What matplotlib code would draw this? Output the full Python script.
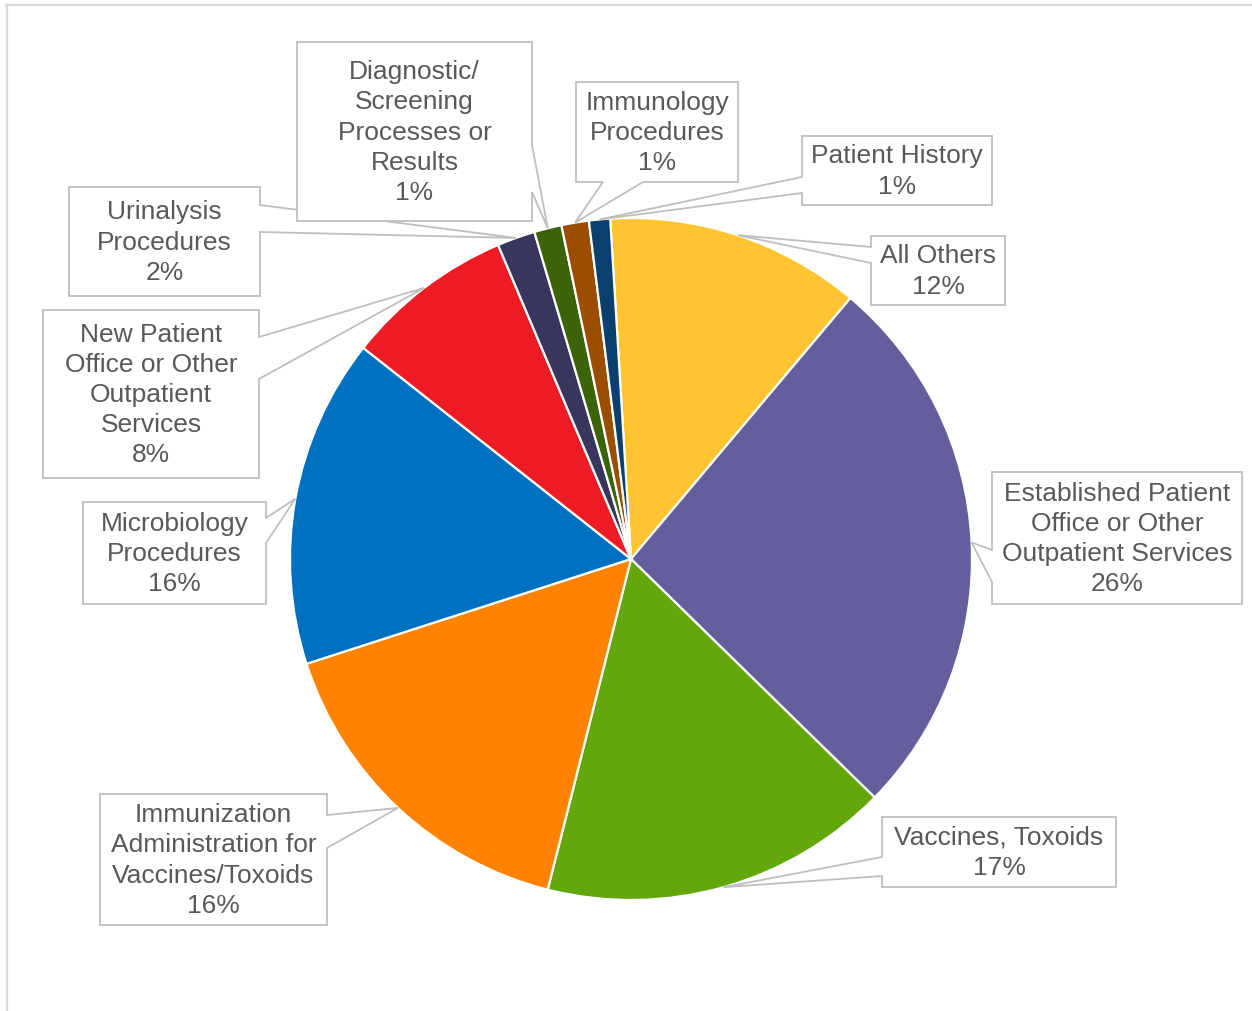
import numpy as np
import matplotlib
matplotlib.use("Agg")
import matplotlib.pyplot as plt
from matplotlib.patches import Polygon

plt.rcParams['font.family'] = ['Liberation Sans', 'DejaVu Sans']

# Data (share of total)
categories = [
    "All Others",
    "Established Patient\nOffice or Other\nOutpatient Services",
    "Vaccines, Toxoids",
    "Immunization\nAdministration for\nVaccines/Toxoids",
    "Microbiology\nProcedures",
    "New Patient\nOffice or Other\nOutpatient\nServices",
    "Urinalysis\nProcedures",
    "Diagnostic/\nScreening\nProcesses or\nResults",
    "Immunology\nProcedures",
    "Patient History",
]
shares = [12.1, 26.2, 16.6, 16.1, 15.6, 8.0, 1.8, 1.3, 1.3, 1.0]
colors = ["#FFC42F", "#635E9C", "#64A70B", "#FF8300", "#0070C0",
          "#ED1C24", "#38365C", "#3B6308", "#9B4E00", "#0B3F6E"]

# Label callout layout in pixels: box (x0, y0, x1, y1), side of pointer, base span
boxes = [
    ((871, 236, 1005, 305), "left", (247, 263)),
    ((992, 472, 1242, 604), "left", (550, 582)),
    ((882, 817, 1116, 887), "left", (857, 876)),
    ((100, 794, 327, 925), "right", (815, 848)),
    ((83, 502, 266, 604), "right", (518, 543)),
    ((43, 310, 259, 478), "right", (337, 379)),
    ((69, 187, 260, 296), "right", (205, 232)),
    ((297, 42, 532, 221), "right", (145, 192)),
    ((576, 82, 738, 182), "bottom", (603, 643)),
    ((802, 136, 992, 205), "left", (177, 193)),
]

W, H = 1252, 1011
cx, cy, r = 631, 559, 341
text_color = "#595959"
edge_color = "#BFBFBF"

fig = plt.figure(figsize=(W / 100, H / 100), dpi=100)
ax = fig.add_axes([0, 0, 1, 1])
ax.set_xlim(0, W)
ax.set_ylim(H, 0)
ax.set_aspect("equal")
ax.axis("off")

# y axis is flipped, so counterclock in data = clockwise on screen
wedges, _ = ax.pie(shares, colors=colors, center=(cx, cy), radius=r,
                   startangle=266.5, counterclock=True,
                   wedgeprops=dict(edgecolor="white", linewidth=1.6))
ax.set_xlim(0, W)
ax.set_ylim(H, 0)


def callout(box, side, base, tip):
    x0, y0, x1, y1 = box
    b1, b2 = sorted(base)
    pts = [(x0, y0), (x1, y0)]
    if side == "right":
        pts += [(x1, b1), tip, (x1, b2)]
    pts += [(x1, y1)]
    if side == "bottom":
        pts += [(b2, y1), tip, (b1, y1)]
    pts += [(x0, y1)]
    if side == "left":
        pts += [(x0, b2), tip, (x0, b1)]
    return pts


for i, (w, (box, side, base)) in enumerate(zip(wedges, boxes)):
    mid = np.deg2rad((w.theta1 + w.theta2) / 2)
    tip = (cx + r * np.cos(mid), cy + r * np.sin(mid))
    poly = Polygon(callout(box, side, base, tip), closed=True,
                   facecolor="white", edgecolor=edge_color, linewidth=1.3,
                   zorder=3 + i)
    ax.add_patch(poly)
    x0, y0, x1, y1 = box
    label = f"{categories[i]}\n{shares[i]:.0f}%"
    ax.text((x0 + x1) / 2, (y0 + y1) / 2 + 1, label, ha="center", va="center",
            fontsize=19, color=text_color, linespacing=1.32, zorder=3 + i)

# chart area border (top and left edges visible)
ax.plot([6, W], [4.5, 4.5], color="#D9D9D9", lw=1.6, zorder=1, clip_on=False)
ax.plot([7, 7], [4.5, H], color="#D9D9D9", lw=1.6, zorder=1, clip_on=False)

fig.savefig("out.png", dpi=100)
